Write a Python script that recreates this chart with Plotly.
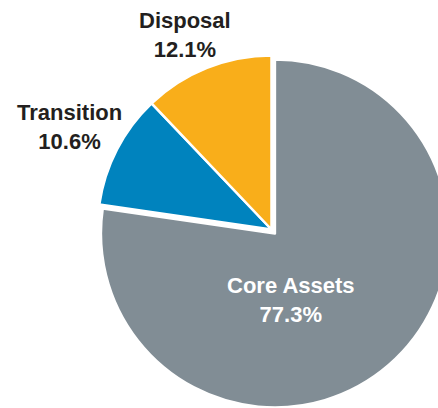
import plotly.graph_objects as go

# Data
labels = ["Core Assets", "Transition", "Disposal"]
values = [77.3, 10.6, 12.1]
colors = ["#818D95", "#0083BE", "#F9AE1A"]
pulls = [0.03, 0, 0]

# Figure canvas (slightly larger than the window so the pie overflows right/bottom, as in the reference)
W, H = 460, 420

def px_x(x):
    return x / W

def px_y(y):
    return 1 - y / H

# pie box (pixels): centre (271.5, 229.5), half-size 179.2
cx, cy, half = 271.5, 229.5, 179.2

fig = go.Figure(
    go.Pie(
        labels=labels,
        values=values,
        sort=False,
        direction="clockwise",
        rotation=0,
        pull=pulls,
        marker=dict(colors=colors, line=dict(color="white", width=2.5)),
        textinfo="none",
        hoverinfo="label+percent",
        showlegend=False,
        domain=dict(x=[px_x(cx - half), px_x(cx + half)],
                    y=[px_y(cy + half), px_y(cy - half)]),
    )
)

total = sum(values)
label_pos = {  # pixel centres of the label blocks
    "Core Assets": (291, 300, "white"),
    "Transition": (69, 127, "#231F20"),
    "Disposal": (185, 35, "#231F20"),
}
for lab, val in zip(labels, values):
    x, y, col = label_pos[lab]
    fig.add_annotation(
        x=px_x(x), y=px_y(y), xref="paper", yref="paper",
        text=f"<b>{lab}</b><br><b>{val / total * 100:.1f}%</b>",
        showarrow=False, xanchor="center", yanchor="middle",
        font=dict(family="Liberation Sans, Arial, sans-serif", size=22, color=col),
        align="center",
    )

fig.update_layout(
    width=W, height=H,
    margin=dict(l=0, r=0, t=0, b=0),
    paper_bgcolor="white",
    plot_bgcolor="white",
)

fig.write_html(
    "out.html",
    config={"displayModeBar": False},
    post_script="document.documentElement.style.overflow='hidden';"
                "document.body.style.overflow='hidden';"
                "document.body.style.margin='0';",
)
